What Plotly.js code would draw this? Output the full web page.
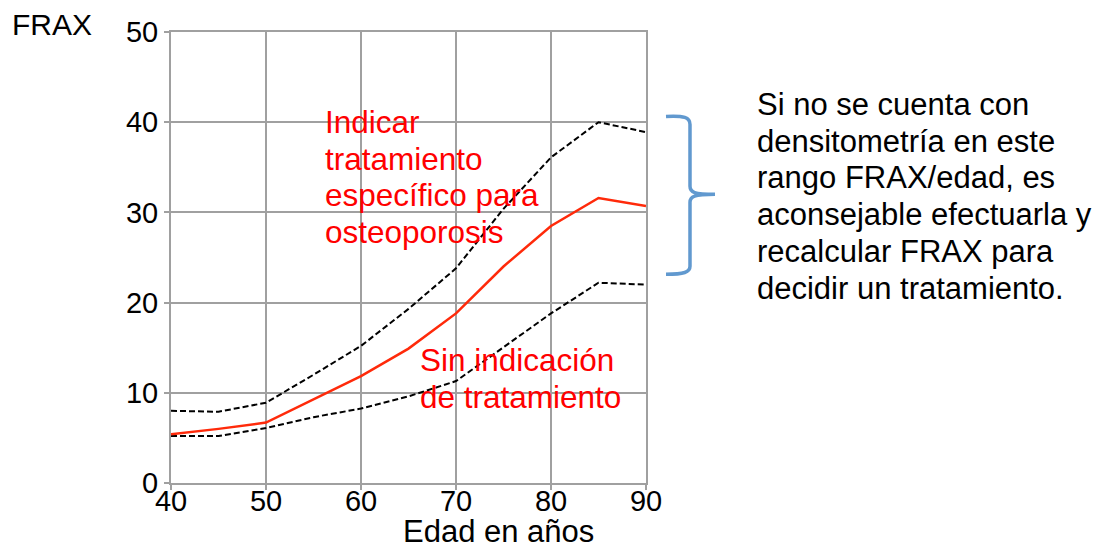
<!DOCTYPE html>
<html>
<head>
<meta charset="utf-8">
<script src="https://cdn.plot.ly/plotly-3.0.1.min.js"></script>
<style>html,body{margin:0;padding:0;background:#fff;}#chart{width:1109px;height:550px;}</style>
</head>
<body>
<div id="chart"></div>
<script>
// ---- data ----
const ages = [40, 45, 50, 55, 60, 65, 70, 75, 80, 85, 90];
const upperThreshold = [8.0, 7.9, 8.9, 12.0, 15.2, 19.3, 23.8, 30.4, 36.1, 40.0, 38.9];
const interventionThreshold = [5.4, 6.0, 6.7, 9.3, 11.85, 14.9, 18.8, 24.0, 28.5, 31.6, 30.7];
const lowerThreshold = [5.2, 5.2, 6.1, 7.3, 8.25, 9.6, 11.3, 15.0, 18.8, 22.2, 22.0];
const xTicks = [40, 50, 60, 70, 80, 90];
const yTicks = [0, 10, 20, 30, 40, 50];
const yAxisLabel = "FRAX";
const xAxisLabel = "Edad en años";
const treatLines = ["Indicar", "tratamiento", "específico para", "osteoporosis"];
const noTreatLines = ["Sin indicación", "de tratamiento"];
const noteLines = ["Si no se cuenta con", "densitometría en este", "rango FRAX/edad, es",
  "aconsejable efectuarla y", "recalcular FRAX para", "decidir un tratamiento."];

// ---- layout geometry (pixels) ----
const W = 1109, H = 550;
const L = 171, R = 646, T = 31.5, B = 483;
const px = x => (x - L) / (R - L);
const py = y => (B - y) / (B - T);
const FONT = "Liberation Sans, Arial, sans-serif";

const traces = [
  {x: ages, y: upperThreshold, mode: "lines", line: {color: "#000", width: 2, dash: "6px,3px"}, hoverinfo: "x+y"},
  {x: ages, y: lowerThreshold, mode: "lines", line: {color: "#000", width: 2, dash: "6px,3px"}, hoverinfo: "x+y"},
  {x: ages, y: interventionThreshold, mode: "lines", line: {color: "#ff2a0a", width: 2.5}, hoverinfo: "x+y"}
];

const ann = [];
function addText(text, xpix, ypix, size, color, xanchor) {
  ann.push({text: text, xref: "paper", yref: "paper", x: px(xpix), y: py(ypix),
    xanchor: xanchor || "left", yanchor: "middle", showarrow: false,
    font: {family: FONT, size: size, color: color}});
}
addText(yAxisLabel, 10, 24, 30, "#000");
addText(xAxisLabel, 498, 532, 31, "#000", "center");
treatLines.forEach((t, i) => addText(t, 323, 122 + i * 36.5, 31.5, "#ff0000"));
noTreatLines.forEach((t, i) => addText(t, 418, 360 + i * 37, 31.5, "#ff0000"));
noteLines.forEach((t, i) => addText(t, 755, 104 + i * 36.8, 31, "#000"));

// brace path built in pixel coordinates, converted to paper
function P(x, y) { return px(x).toFixed(5) + "," + py(y).toFixed(5); }
const bracePath =
  "M" + P(666, 116) + " C" + P(684, 115) + " " + P(690, 117) + " " + P(690, 124) +
  " L" + P(690, 186) + " C" + P(690, 192) + " " + P(694, 194) + " " + P(715, 194) +
  " M" + P(715, 194) + " C" + P(694, 194) + " " + P(690, 196) + " " + P(690, 202) +
  " L" + P(690, 266) + " C" + P(690, 272) + " " + P(684, 274) + " " + P(666, 274);

const layout = {
  width: W, height: H,
  margin: {l: L, r: W - R, t: T, b: H - B, pad: 0},
  paper_bgcolor: "#fff", plot_bgcolor: "#fff",
  showlegend: false,
  font: {family: FONT, color: "#000"},
  xaxis: {
    range: [40, 90], tickvals: xTicks, ticktext: xTicks.map(String),
    showgrid: true, gridcolor: "#a0a0a0", gridwidth: 2,
    showline: true, mirror: true, linecolor: "#a0a0a0", linewidth: 2,
    ticks: "outside", ticklen: 5, tickwidth: 2, tickcolor: "#a0a0a0",
    ticklabelstandoff: -14,
    zeroline: false, tickfont: {family: FONT, size: 29, color: "#000"}, fixedrange: true
  },
  yaxis: {
    range: [0, 50], tickvals: yTicks, ticktext: yTicks.map(String),
    showgrid: true, gridcolor: "#a0a0a0", gridwidth: 2,
    showline: true, mirror: true, linecolor: "#a0a0a0", linewidth: 2,
    ticks: "outside", ticklen: 5, tickwidth: 2, tickcolor: "#a0a0a0",
    zeroline: false, tickfont: {family: FONT, size: 29, color: "#000"}, fixedrange: true
  },
  annotations: ann,
  shapes: [{type: "path", xref: "paper", yref: "paper", path: bracePath,
    line: {color: "#6199cf", width: 3.5}}]
};

Plotly.newPlot("chart", traces, layout, {displayModeBar: false, staticPlot: true});
</script>
</body>
</html>
